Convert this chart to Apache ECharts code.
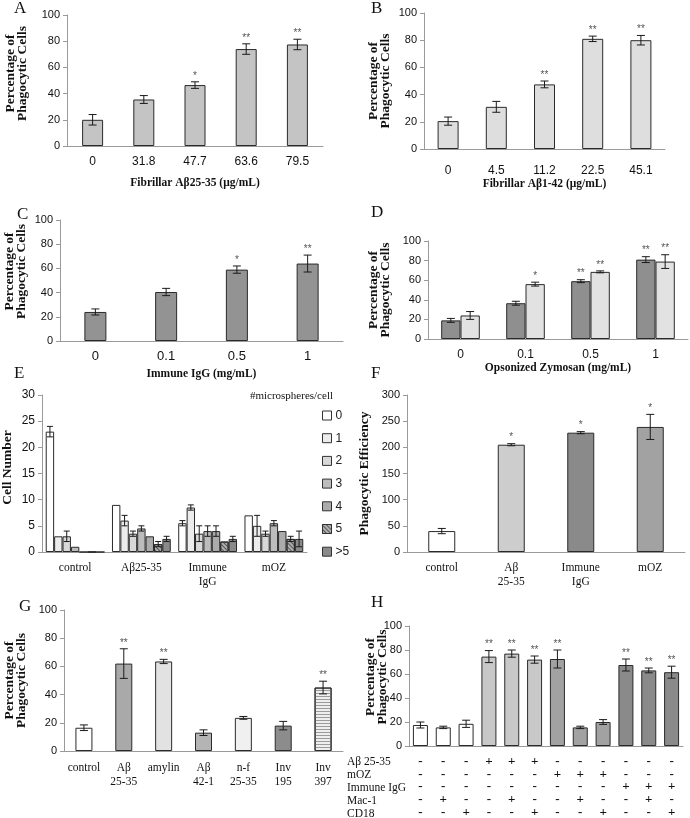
<!DOCTYPE html>
<html><head><meta charset="utf-8">
<script src="https://cdn.jsdelivr.net/npm/echarts@6/dist/echarts.min.js"></script>
<style>html,body{margin:0;padding:0;background:#fff}#c{width:690px;height:818px}</style>
</head><body><div id="c"></div>
<script>
// ---------------- DATA ----------------
const catA = ['0','31.8','47.7','63.6','79.5'];
const valA = [20,35.5,46.5,74,77.5];
const errA = [4,3,2.5,4,4];
const sigA = ['','','*','**','**'];

const catB = ['0','4.5','11.2','22.5','45.1'];
const valB = [20.5,31,47.5,81,80];
const errB = [3,4,2.5,2,3.5];
const sigB = ['','','**','**','**'];

const catC = ['0','0.1','0.5','1'];
const valC = [24,40.5,59,64];
const errC = [2.5,3,3,7];
const sigC = ['','','*','**'];

const catD = ['0','0.1','0.5','1'];
const valD1 = [19,36.5,59,81];
const errD1 = [2,2,1.5,3];
const sigD1 = ['','','**','**'];
const valD2 = [24,56,68.5,79];
const errD2 = [4,2,1,7];
const sigD2 = ['','*','**','**'];

const catE = ['control','Aβ25-35','Immune\nIgG','mOZ'];
const namesE = ['0','1','2','3','4','5','>5'];
const valE = [
  [23,9,5.5,7],
  [3,6,8.5,5],
  [3,3.5,3.5,3.5],
  [1,4.5,4,5.5],
  [0,3,4,4],
  [0,1.5,2,2.5],
  [0,2.5,2.5,2.5]
];
const errE = [
  [1,0,0.5,0],
  [0,1,0.5,2],
  [1,0.5,1.5,0.5],
  [0,0.5,1,0.5],
  [0,0,1,0],
  [0,0.5,0,0.5],
  [0,0.5,0.5,1.5]
];

const catF = ['control','Aβ\n25-35','Immune\nIgG','mOZ'];
const valF = [40,205,228,239];
const errF = [5,2,2,24];
const sigF = ['','*','*','*'];

const catG = ['control','Aβ\n25-35','amylin','Aβ\n42-1','n-f\n25-35','Inv\n195','Inv\n397'];
const valG = [16.5,62,63.5,13,23.5,18,45];
const errG = [2,10.5,1.5,2,1,3,4.5];
const sigG = ['','**','**','','','','**'];

const valH = [17.5,15.5,18.5,74.5,77,72,72.5,15.5,20,67.5,63,61.5];
const errH = [2.5,1,3,5,3,3,7.5,1,2,5,2,5];
const sigH = ['','','','**','**','**','**','','','**','**','**'];
const rowsH = ['Aβ 25-35','mOZ','Immune IgG','Mac-1','CD18'];
const signAb  = ['-','-','-','+','+','+','-','-','-','-','-','-'];
const signMoz = ['-','-','-','-','-','-','+','+','+','-','-','-'];
const signIgg = ['-','-','-','-','-','-','-','-','-','+','+','+'];
const signMac = ['-','+','-','-','+','-','-','+','-','-','+','-'];
const signCd  = ['-','-','+','-','-','+','-','-','+','-','-','+'];

// ---------------- STYLES ----------------
const SANS = 'Liberation Sans, Arial, sans-serif';
const SERIF = 'Liberation Serif, Times New Roman, serif';
const AX = '#9a9a9a';
const colA = '#c4c4c4', colB = '#dedede', colC = '#939393', colD1 = '#8f8f8f', colD2 = '#e2e2e2';
const colE = ['#ffffff','#ececec','#d8d8d8','#bcbcbc','#ababab','#b0b0b0','#8a8a8a'];
const colF = ['#ffffff','#cdcdcd','#8a8a8a','#a2a2a2'];
const colG = ['#ffffff','#a9a9a9','#e2e2e2','#b4b4b4','#f0f0f0','#8c8c8c','#eeeeee'];
const colH = ['#ffffff','#ffffff','#ffffff','#c8c8c8','#c8c8c8','#c8c8c8','#a2a2a2','#a2a2a2','#a2a2a2','#8a8a8a','#8a8a8a','#8a8a8a'];
const hatchDiag = {symbol:'rect', symbolSize:1, dashArrayX:[1,0], dashArrayY:[1,2], rotation:Math.PI/4, color:'#555'};
const hatchHoriz = {symbol:'rect', symbolSize:1, dashArrayX:[1,0], dashArrayY:[1,2], rotation:0, color:'#9a9a9a'};
const decE = [null,null,null,null,null,hatchDiag,null];
const decG = [null,null,null,null,null,null,hatchHoriz];

const grids=[], xAxes=[], yAxes=[], series=[];

function panel(o){
  const k = grids.length;
  grids.push({left:o.box[0], top:o.box[1], width:o.box[2], height:o.box[3], containLabel:false, outerBoundsMode:'none'});
  xAxes.push({type:'category', gridIndex:k, data:o.cats,
    axisLine:{lineStyle:{color:AX}}, axisTick:{length:4, lineStyle:{color:AX}},
    axisLabel:Object.assign({color:'#111', fontFamily:SANS, fontSize:12, margin:10, interval:0}, o.xLabel||{}),
    name:o.xName||'', nameLocation:'middle', nameGap:o.xNameGap||30, nameMoveOverlap:false,
    nameTextStyle:{fontFamily:SERIF, fontWeight:'bold', fontSize:11.5, color:'#111'}});
  yAxes.push({type:'value', gridIndex:k, min:0, max:o.max, interval:o.interval,
    axisLine:{show:true, lineStyle:{color:AX}}, axisTick:{show:true, length:4, lineStyle:{color:AX}},
    splitLine:{show:false},
    axisLabel:{color:'#111', fontFamily:SANS, fontSize:o.yFont||11, margin:7},
    name:o.yName, nameLocation:'middle', nameRotate:90, nameGap:o.yNameGap, nameMoveOverlap:false,
    nameTextStyle:{fontFamily:SERIF, fontWeight:'bold', fontSize:13.5, color:'#111', lineHeight:12, padding:o.yNamePad||0}});
  const n = o.groups.length, w = o.barWidth, cap = o.cap||4;
  o.groups.forEach((g)=>{
    const arr = Array.isArray(g.color);
    const st = {color: arr ? '#ffffff' : g.color, borderColor:'#2a2a2a', borderWidth:1};
    if(g.decal) st.decal = g.decal;
    series.push({type:'bar', name:g.name, xAxisIndex:k, yAxisIndex:k, barWidth:w, barGap:'0%',
      animation:false, silent:true, itemStyle:st,
      data:g.vals.map((v,i)=>{
        if(!arr) return v;
        const is = {color:g.color[i]};
        if(g.decals && g.decals[i]) is.decal = g.decals[i];
        return {value:v, itemStyle:is};
      })});
  });
  o.groups.forEach((g,s)=>{
    const off = (s-(n-1)/2)*w;
    series.push({type:'custom', xAxisIndex:k, yAxisIndex:k, z:5, silent:true, animation:false,
      data:g.vals.map((v,i)=>[i, v, g.errs[i]]),
      renderItem:(params, api)=>{
        const i=api.value(0), v=api.value(1), e=api.value(2);
        const x = api.coord([i,v])[0] + off;
        const yt = api.coord([i,v+e])[1], yb = api.coord([i,v-e])[1];
        const ch=[]; const st={stroke:'#1a1a1a', lineWidth:1};
        if(e>0){
          ch.push({type:'line', shape:{x1:x,y1:yt,x2:x,y2:yb}, style:st});
          ch.push({type:'line', shape:{x1:x-cap,y1:yt,x2:x+cap,y2:yt}, style:st});
          ch.push({type:'line', shape:{x1:x-cap,y1:yb,x2:x+cap,y2:yb}, style:st});
        }
        const sig = g.sigs ? g.sigs[params.dataIndex] : '';
        if(sig) ch.push({type:'text', x:x, y:yt-1, style:{text:sig, align:'center', verticalAlign:'bottom', fill:'#555', fontSize:10, fontFamily:SANS}});
        return {type:'group', children:ch};
      }});
  });
}

const TITLE2 = 'Percentage of\nPhagocytic Cells';
panel({box:[67,15,256,131], cats:catA, max:100, interval:20, yName:TITLE2, yNameGap:38, yNamePad:[0,0,0,14],
  xName:'Fibrillar Aβ25-35 (μg/mL)', xNameGap:31, barWidth:21,
  groups:[{vals:valA, errs:errA, sigs:sigA, color:colA}]});
panel({box:[424,13,241,136], cats:catB, max:100, interval:20, yName:TITLE2, yNameGap:32,
  xName:'Fibrillar Aβ1-42 (μg/mL)', xNameGap:29, xLabel:{margin:16}, barWidth:21,
  groups:[{vals:valB, errs:errB, sigs:sigB, color:colB}]});
panel({box:[60,220,283,121], cats:catC, max:100, interval:20, yName:TITLE2, yNameGap:32, yNamePad:[0,0,0,18],
  xName:'Immune IgG (mg/mL)', xNameGap:27, xLabel:{fontSize:13, margin:9}, barWidth:22,
  groups:[{vals:valC, errs:errC, sigs:sigC, color:colC}]});
panel({box:[428,241,260,98], cats:catD, max:100, interval:20, yName:TITLE2, yNameGap:36,
  xName:'Opsonized Zymosan (mg/mL)', xNameGap:23, barWidth:19.3,
  groups:[{vals:valD1, errs:errD1, sigs:sigD1, color:colD1},{vals:valD2, errs:errD2, sigs:sigD2, color:colD2}]});
panel({box:[42,395,265,157], cats:catE, max:30, interval:5, yName:'Cell Number', yNameGap:28, yNamePad:[0,0,0,12], yFont:12,
  xLabel:{fontFamily:SERIF, fontSize:11.5, margin:9, lineHeight:14}, barWidth:8.4, cap:3,
  groups:namesE.map((nm,s)=>({name:nm, vals:valE[s], errs:errE[s], sigs:null, color:colE[s], decal:decE[s]}))});
panel({box:[407,395,278,157], cats:catF, max:300, interval:50, yName:'Phagocytic Efficiency', yNameGap:36,
  xLabel:{fontFamily:SERIF, fontSize:11.5, margin:9, lineHeight:14}, barWidth:27,
  groups:[{vals:valF, errs:errF, sigs:sigF, color:colF}]});
panel({box:[64,610,279,141], cats:catG, max:100, interval:20, yName:TITLE2, yNameGap:36,
  xLabel:{fontFamily:SERIF, fontSize:11.5, margin:10, lineHeight:14}, barWidth:17,
  groups:[{vals:valG, errs:errG, sigs:sigG, color:colG, decals:decG}]});
panel({box:[409,626,274,120], cats:valH.map((v,i)=>String(i+1)), max:100, interval:20, yName:TITLE2, yNameGap:20, yNamePad:[0,0,0,18],
  xLabel:{fontFamily:SERIF, fontSize:13, fontWeight:'bold', margin:9, lineHeight:12.8,
    formatter:(v,i)=>[signAb[i],signMoz[i],signIgg[i],signMac[i],signCd[i]].join('\n')},
  barWidth:15,
  groups:[{vals:valH, errs:errH, sigs:sigH, color:colH}]});

// ---------------- TEXT ----------------
const graphic = [];
const letters = [['A',14,0],['B',371,0],['C',17,206],['D',371,204],['E',14,365],['F',371,365],['G',19,598],['H',371,594]];
letters.forEach(l=>graphic.push({type:'text', left:l[1], top:l[2], style:{text:l[0], fontFamily:SERIF, fontSize:17, fill:'#111'}}));
graphic.push({type:'text', right:690-333, top:391, style:{text:'#microspheres/cell', fontFamily:SERIF, fontSize:11, fill:'#111'}});
const rowY = [756,768.5,781.5,795,807.5];
rowsH.forEach((r,i)=>graphic.push({type:'text', left:347, top:rowY[i], style:{text:r, fontFamily:SERIF, fontSize:11.5, fill:'#111'}}));

const chart = echarts.init(document.getElementById('c'), null, {renderer:'canvas'});
chart.setOption({
  animation:false,
  backgroundColor:'#fff',
  grid:grids, xAxis:xAxes, yAxis:yAxes, series:series, graphic:graphic,
  legend:{data:namesE, orient:'vertical', left:322, top:409.5, itemWidth:9, itemHeight:9, itemGap:10.7,
    icon:'rect', selectedMode:false, padding:0,
    itemStyle:{borderColor:'#333', borderWidth:1},
    textStyle:{fontFamily:SANS, fontSize:12, color:'#222', padding:[0,0,0,-1]}}
});
</script></body></html>
